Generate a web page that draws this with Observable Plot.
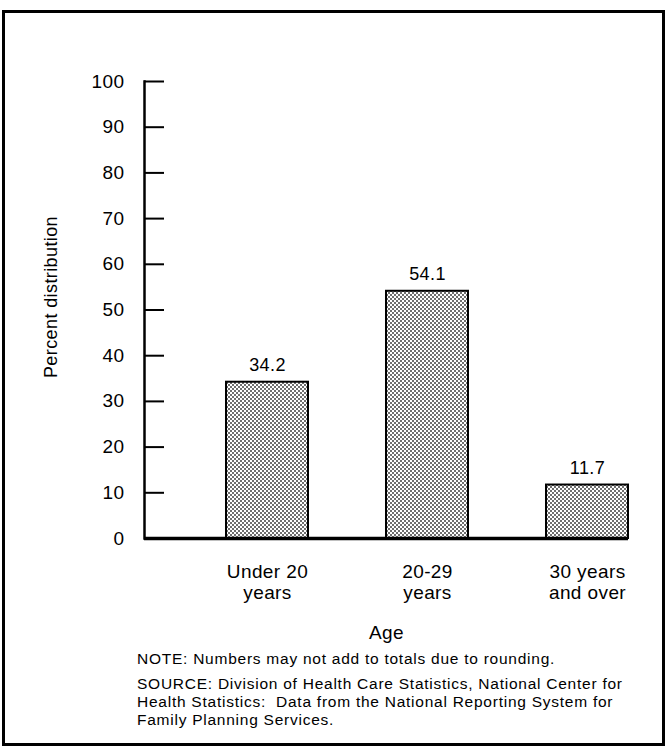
<!DOCTYPE html>
<html>
<head>
<meta charset="utf-8">
<script src="https://cdn.jsdelivr.net/npm/d3@7"></script>
<script src="https://cdn.jsdelivr.net/npm/@observablehq/plot@0.6"></script>
<style>
  html, body { margin: 0; padding: 0; background: #fff; }
  body { width: 666px; height: 747px; position: relative; overflow: hidden; font-family: "Liberation Sans", Arial, Helvetica, sans-serif; color: #000; }
  #border { position: absolute; left: 2px; top: 10px; width: 663px; height: 736px; box-sizing: border-box; border: 3px solid #000; pointer-events: none; }
  #chart { position: absolute; left: 0; top: 0; }
  #chart svg text { letter-spacing: 0.4px; }
  #notes { position: absolute; left: 137px; top: 650px; font-size: 15.5px; line-height: 18px; letter-spacing: 0.75px; }
  #notes p { margin: 0; }
  #notes p.note { margin-bottom: 7px; }
</style>
</head>
<body>
<div id="chart"></div>
<div id="notes">
  <p class="note">NOTE: Numbers may not add to totals due to rounding.</p>
  <p>SOURCE: Division of Health Care Statistics, National Center for<br>Health Statistics:&nbsp; Data from the National Reporting System for<br>Family Planning Services.</p>
</div>
<div id="border"></div>
<script>
const categories = ["Under 20\nyears", "20-29\nyears", "30 years\nand over"];
const values = [34.2, 54.1, 11.7];
const yTicks = [0, 10, 20, 30, 40, 50, 60, 70, 80, 90, 100];
const yLabel = "Percent distribution";
const xLabel = "Age";

const data = categories.map((c, i) => ({cat: c, v: values[i]}));

const svg = Plot.plot({
  width: 666,
  height: 650,
  marginTop: 81,
  marginBottom: 112,
  marginLeft: 144,
  marginRight: 38,
  style: {fontFamily: '"Liberation Sans", Arial, Helvetica, sans-serif', fontSize: "18px", color: "#000", background: "transparent"},
  x: {type: "band", domain: categories, paddingInner: 0.49, paddingOuter: 0.252, align: 1},
  y: {domain: [0, 100]},
  marks: [
    Plot.barY(data, {x: "cat", y: "v", fill: "url(#stipple)", stroke: "#000", strokeWidth: 2}),
    Plot.text(data, {x: "cat", y: "v", text: d => d.v.toFixed(1), lineAnchor: "bottom", dy: -11, fontSize: 18}),
    Plot.ruleY(yTicks.filter(t => t > 0), {stroke: "#000", strokeWidth: 2, insetRight: 464}),
    Plot.frame({anchor: "left", stroke: "#000", strokeWidth: 2.5}),
    Plot.ruleY([0], {stroke: "#000", strokeWidth: 3.5}),
    Plot.axisY({ticks: yTicks, tickSize: 0, tickPadding: 20, fontSize: 19, label: null}),
    Plot.axisX({tickSize: 0, tickPadding: 25, fontSize: 19, lineHeight: 1.08, label: null}),
    Plot.text([xLabel], {frameAnchor: "bottom", lineAnchor: "bottom", dy: 100, fontSize: 19}),
    Plot.text([yLabel], {frameAnchor: "left", textAnchor: "middle", rotate: -90, dx: -93, dy: -13, fontSize: 18})
  ]
});

const ns = "http://www.w3.org/2000/svg";
const defs = document.createElementNS(ns, "defs");
defs.innerHTML = `<pattern id="stipple" width="4" height="4" patternUnits="userSpaceOnUse">
  <rect width="4" height="4" fill="#fff"/>
  <rect x="0.25" y="0.25" width="1.5" height="1.5" fill="#000"/>
  <rect x="2.25" y="2.25" width="1.5" height="1.5" fill="#000"/>
</pattern>`;
svg.insertBefore(defs, svg.firstChild);
document.getElementById("chart").appendChild(svg);
</script>
</body>
</html>
